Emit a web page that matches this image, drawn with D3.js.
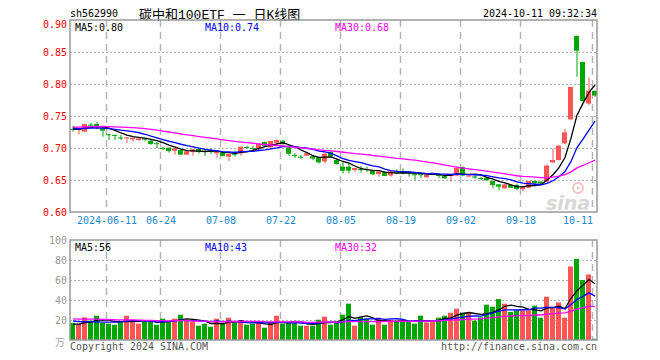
<!DOCTYPE html>
<html><head><meta charset="utf-8">
<script src="https://cdn.jsdelivr.net/npm/d3@7/dist/d3.min.js"></script>
<style>body{margin:0;background:#fff}svg{display:block}</style>
</head><body><svg id="c" width="660" height="360"></svg>
<script>
// ---------- data ----------
const dates = ["2024-05-31","2024-06-03","2024-06-04","2024-06-05","2024-06-06","2024-06-07","2024-06-11","2024-06-12","2024-06-13","2024-06-14",
"2024-06-17","2024-06-18","2024-06-19","2024-06-20","2024-06-21","2024-06-24","2024-06-25","2024-06-26","2024-06-27","2024-06-28",
"2024-07-01","2024-07-02","2024-07-03","2024-07-04","2024-07-05","2024-07-08","2024-07-09","2024-07-10","2024-07-11","2024-07-12",
"2024-07-15","2024-07-16","2024-07-17","2024-07-18","2024-07-19","2024-07-22","2024-07-23","2024-07-24","2024-07-25","2024-07-26",
"2024-07-29","2024-07-30","2024-07-31","2024-08-01","2024-08-02","2024-08-05","2024-08-06","2024-08-07","2024-08-08","2024-08-09",
"2024-08-12","2024-08-13","2024-08-14","2024-08-15","2024-08-16","2024-08-19","2024-08-20","2024-08-21","2024-08-22","2024-08-23",
"2024-08-26","2024-08-27","2024-08-28","2024-08-29","2024-08-30","2024-09-02","2024-09-03","2024-09-04","2024-09-05","2024-09-06",
"2024-09-09","2024-09-10","2024-09-11","2024-09-12","2024-09-13","2024-09-18","2024-09-19","2024-09-20","2024-09-23","2024-09-24",
"2024-09-25","2024-09-26","2024-09-27","2024-09-30","2024-10-08","2024-10-09","2024-10-10","2024-10-11"];

const opens = [0.7300,0.7280,0.7255,0.7365,0.7375,0.7317,0.7215,0.7205,0.7165,0.7150,
0.7135,0.7125,0.7145,0.7114,0.7075,0.7000,0.7005,0.6958,0.6969,0.6896,
0.6943,0.6984,0.6960,0.6960,0.6917,0.6927,0.6865,0.6910,0.6917,0.7015,
0.7000,0.6995,0.7094,0.7010,0.7083,0.7110,0.7005,0.6890,0.6865,0.6880,
0.6870,0.6854,0.6790,0.6940,0.6812,0.6708,0.6708,0.6656,0.6670,0.6670,
0.6646,0.6594,0.6620,0.6570,0.6630,0.6625,0.6635,0.6590,0.6590,0.6542,
0.6583,0.6580,0.6563,0.6570,0.6570,0.6700,0.6560,0.6555,0.6530,0.6536,
0.6484,0.6432,0.6370,0.6422,0.6422,0.6360,0.6380,0.6484,0.6474,0.6474,
0.6776,0.6812,0.7073,0.7448,0.8750,0.8344,0.7695,0.7893];
const highs = [0.7344,0.7315,0.7380,0.7395,0.7406,0.7330,0.7218,0.7208,0.7203,0.7170,
0.7165,0.7155,0.7155,0.7125,0.7090,0.7015,0.7010,0.7000,0.6972,0.6950,
0.6985,0.6990,0.6995,0.6995,0.6960,0.6940,0.6910,0.6958,0.7025,0.7036,
0.7036,0.7070,0.7100,0.7110,0.7135,0.7125,0.7047,0.6920,0.6890,0.6920,
0.6875,0.6860,0.6920,0.6950,0.6830,0.6786,0.6760,0.6690,0.6719,0.6708,
0.6650,0.6635,0.6630,0.6650,0.6667,0.6682,0.6640,0.6615,0.6604,0.6580,
0.6610,0.6604,0.6570,0.6590,0.6700,0.6710,0.6580,0.6578,0.6552,0.6540,
0.6490,0.6435,0.6435,0.6425,0.6443,0.6400,0.6490,0.6490,0.6480,0.6745,
0.6990,0.7045,0.7297,0.7958,0.8760,0.8350,0.8100,0.7900];
const lows = [0.7255,0.7214,0.7250,0.7323,0.7290,0.7177,0.7125,0.7125,0.7125,0.7080,
0.7098,0.7110,0.7105,0.7050,0.6995,0.6970,0.6927,0.6896,0.6890,0.6890,
0.6880,0.6915,0.6875,0.6906,0.6840,0.6870,0.6797,0.6865,0.6880,0.6990,
0.6958,0.6969,0.7030,0.7010,0.7047,0.7047,0.6875,0.6845,0.6823,0.6875,
0.6810,0.6755,0.6760,0.6860,0.6740,0.6604,0.6604,0.6630,0.6615,0.6630,
0.6580,0.6552,0.6560,0.6552,0.6594,0.6589,0.6552,0.6500,0.6526,0.6535,
0.6580,0.6526,0.6520,0.6474,0.6560,0.6560,0.6545,0.6516,0.6500,0.6490,
0.6370,0.6344,0.6365,0.6375,0.6344,0.6328,0.6370,0.6422,0.6422,0.6470,
0.6760,0.6805,0.7060,0.7442,0.8114,0.7730,0.7670,0.7800];
const closes = [0.7295,0.7310,0.7375,0.7360,0.7333,0.7270,0.7210,0.7200,0.7160,0.7165,
0.7160,0.7150,0.7140,0.7062,0.7070,0.6995,0.6953,0.6995,0.6896,0.6948,
0.6980,0.6937,0.6950,0.6950,0.6953,0.6875,0.6906,0.6900,0.7020,0.7005,
0.6990,0.7063,0.7036,0.7110,0.7125,0.7073,0.6910,0.6880,0.6855,0.6917,
0.6835,0.6776,0.6910,0.6865,0.6750,0.6646,0.6646,0.6688,0.6665,0.6665,
0.6589,0.6630,0.6563,0.6635,0.6620,0.6620,0.6609,0.6580,0.6580,0.6578,
0.6604,0.6570,0.6526,0.6580,0.6690,0.6570,0.6570,0.6550,0.6525,0.6495,
0.6422,0.6396,0.6432,0.6380,0.6360,0.6396,0.6484,0.6448,0.6443,0.6724,
0.6812,0.7036,0.7245,0.7953,0.8520,0.7734,0.7895,0.7820];
// volume, unit 万
const volumes = [17.0,16.0,22.6,19.3,24.3,17.0,16.3,15.3,18.6,24.3,
19.3,16.3,18.6,18.6,15.3,21.3,18.6,21.3,25.3,19.6,
18.6,14.3,16.3,13.3,21.3,16.0,22.3,17.0,19.6,15.3,
16.3,17.0,12.3,17.0,24.3,16.3,17.0,18.6,14.3,14.3,
14.3,20.3,23.3,15.3,17.0,25.3,36.3,14.3,23.0,21.3,
15.3,22.3,15.3,20.3,19.3,19.3,18.6,16.3,24.3,17.6,
19.3,22.3,24.3,27.3,31.3,27.3,27.3,19.3,22.6,35.3,
33.3,41.0,36.3,28.0,29.6,29.6,29.6,34.3,22.3,43.3,
32.0,37.6,22.3,73.5,81.0,60.0,65.5,1.2];
// estimated sessions before the visible window (needed for moving averages)
const priorCloses = [0.722,0.725,0.727,0.726,0.729,0.728,0.730,0.727,0.729,0.731,
0.735,0.738,0.741,0.744,0.742,0.740,0.743,0.739,0.737,0.736,0.734,
0.732,0.730,0.733,0.729,0.728,0.731,0.730,0.727];
const priorVolumes = [21,24,20,22,26,23,20,19,25,22,23,27,21,19,24,22,20,18,24,22,22,24,21,23,21,16,15,17,14];

const priceTicks = [0.60,0.65,0.70,0.75,0.80,0.85,0.90];
const volumeTicks = [0,20,40,60,80,100];
const dateTicks = ["2024-06-11","2024-06-24","2024-07-08","2024-07-22","2024-08-05","2024-08-19","2024-09-02","2024-09-18","2024-10-11"];
const dateTickLabels = ["2024-06-11","06-24","07-08","07-22","08-05","08-19","09-02","09-18","10-11"];
const maPeriods = [5,10,30];
const priceLegend = ["MA5:0.80","MA10:0.74","MA30:0.68"];
const volumeLegend = ["MA5:56","MA10:43","MA30:32"];
const symbol = "sh562990";
const title = "碳中和100ETF 一 日K线图";
const stamp = "2024-10-11 09:32:34";

// ---------- chart ----------
const svg = d3.select("#c");
const L = 70, R = 597, PT = 20, PB = 212, VT = 240, VB = 340;
const RED = "#ff5555", GREEN = "#00a600", GRID = "#b4b4b4", FRAME = "#999";
const maColors = ["#000000", "#0000ff", "#ff00ff"];

const x = d3.scaleBand().domain(dates).range([L, 598]).paddingInner(0).paddingOuter(0);
const bw = x.bandwidth();
const cx = d => x(d) + bw / 2 - 0.5;
const yP = d3.scaleLinear().domain([0.60, 0.90]).range([PB, PT]);
const yV = d3.scaleLinear().domain([0, 100]).range([VB, VT]);

function mono(sel, size) {
  sel.style("font-family", "'DejaVu Sans Mono', monospace").style("font-size", size + "px")
     .attr("textLength", function () { return this.textContent.length * 6; })
     .attr("lengthAdjust", "spacingAndGlyphs");
  return sel;
}
function movingAvg(prior, vals, n) {
  const all = prior.concat(vals), off = prior.length;
  return vals.map((v, i) => d3.mean(all.slice(off + i - n + 1, off + i + 1)));
}

const rows = dates.map((d, i) => ({ d, o: opens[i], h: highs[i], l: lows[i], c: closes[i], v: volumes[i] }));
const up = r => r.c >= r.o;

// header
mono(svg.append("text").attr("x", L).attr("y", 17).attr("fill", "#000").text(symbol), 11);
svg.append("text").attr("x", 139).attr("y", 18.5).attr("fill", "#000").style("white-space", "pre")
  .style("font-family", "'Liberation Mono', 'Noto Sans CJK SC', monospace").style("font-size", "13px").text(title);
mono(svg.append("text").attr("x", R).attr("y", 17).attr("text-anchor", "end").attr("fill", "#000").text(stamp), 11);

// grids
function hgrid(scale, ticks, skip) {
  svg.append("g").selectAll("line").data(ticks.filter(t => !skip.includes(t))).join("line")
    .attr("x1", L).attr("x2", R).attr("y1", d => Math.round(scale(d)) + 0.5).attr("y2", d => Math.round(scale(d)) + 0.5)
    .attr("stroke", GRID).attr("stroke-width", 1).attr("stroke-dasharray", "2,2");
}
hgrid(yP, priceTicks, [0.60, 0.90]);
hgrid(yV, volumeTicks, [0, 100]);
[[PT, PB], [VT, VB]].forEach(([t, b]) => {
  svg.append("g").selectAll("line").data(dateTicks).join("line")
    .attr("x1", d => x(d) + 0.5).attr("x2", d => x(d) + 0.5).attr("y1", t).attr("y2", b)
    .attr("stroke", GRID).attr("stroke-width", 1.5).attr("stroke-dasharray", "7,5");
});

// watermark
const wm = svg.append("g").attr("opacity", 0.55);
wm.append("circle").attr("cx", 578).attr("cy", 188).attr("r", 5).attr("fill", "none").attr("stroke", "#e89090").attr("stroke-width", 2);
wm.append("circle").attr("cx", 578).attr("cy", 188).attr("r", 1.6).attr("fill", "#e89090");
wm.append("text").attr("x", 546).attr("y", 210).attr("fill", "#b8b8b8")
  .style("font-family", "'DejaVu Sans', sans-serif").style("font-size", "19px").style("font-style", "italic").style("font-weight", "bold").text("sina");

// candles
const cg = svg.append("g");
cg.selectAll("line").data(rows).join("line")
  .attr("x1", d => cx(d.d) + 0.5).attr("x2", d => cx(d.d) + 0.5)
  .attr("y1", d => yP(d.h)).attr("y2", d => yP(d.l))
  .attr("stroke", d => up(d) ? RED : GREEN).attr("stroke-width", 1);
cg.selectAll("rect").data(rows).join("rect")
  .attr("x", d => x(d.d)).attr("width", bw - 1)
  .attr("y", d => yP(Math.max(d.o, d.c)))
  .attr("height", d => Math.max(1, Math.abs(yP(d.o) - yP(d.c))))
  .attr("fill", d => up(d) ? RED : GREEN);

// volume bars
svg.append("g").selectAll("rect").data(rows).join("rect")
  .attr("x", d => x(d.d)).attr("width", bw - 1)
  .attr("y", d => yV(d.v)).attr("height", d => yV(0) - yV(d.v))
  .attr("fill", d => up(d) ? RED : GREEN);

// moving averages
maPeriods.forEach((n, k) => {
  const pm = movingAvg(priorCloses, closes, n);
  const vm = movingAvg(priorVolumes, volumes, n);
  svg.append("path").datum(pm).attr("fill", "none").attr("stroke", maColors[k]).attr("stroke-width", 1.3)
    .attr("d", d3.line().x((v, i) => cx(dates[i]) + 0.5).y(v => yP(v)));
  svg.append("path").datum(vm).attr("fill", "none").attr("stroke", maColors[k]).attr("stroke-width", 1.3)
    .attr("d", d3.line().x((v, i) => cx(dates[i]) + 0.5).y(v => yV(v)));
});

// frames
[[PT, PB], [VT, VB]].forEach(([t, b]) => {
  svg.append("rect").attr("x", L).attr("y", t).attr("width", R - L).attr("height", b - t)
    .attr("fill", "none").attr("stroke", FRAME).attr("stroke-width", 1.5);
});

// legends
const legX = [75, 205, 335];
priceLegend.forEach((s, k) => mono(svg.append("text").attr("x", legX[k]).attr("y", 31).attr("fill", maColors[k]).text(s), 11));
volumeLegend.forEach((s, k) => mono(svg.append("text").attr("x", legX[k]).attr("y", 251).attr("fill", maColors[k]).text(s), 11));

// y axes
const ay = svg.append("g").attr("transform", `translate(${L - 3},0)`)
  .call(d3.axisLeft(yP).tickValues(priceTicks).tickFormat(d3.format(".2f")).tickSize(0));
ay.select(".domain").remove();
ay.selectAll("text").attr("fill", "#ff0000").attr("dy", "0.35em").attr("x", 0)
  .each(function () { mono(d3.select(this), 11); });
ay.selectAll(".tick").filter(d => d === 0.90).attr("transform", `translate(0,${yP(0.90) + 4})`);

const av = svg.append("g").attr("transform", `translate(${L - 3},0)`)
  .call(d3.axisLeft(yV).tickValues(volumeTicks.filter(t => t > 0)).tickSize(0));
av.select(".domain").remove();
av.selectAll("text").attr("fill", "#999").attr("dy", "0.35em").attr("x", 0)
  .each(function () { mono(d3.select(this), 11); });
svg.append("text").attr("x", 65).attr("y", 346).attr("text-anchor", "end").attr("fill", "#aaa")
  .style("font-family", "'Noto Sans CJK SC', sans-serif").style("font-size", "10px").text("万");

// x labels (kept inside the frame)
svg.append("g").selectAll("text").data(dateTicks).join("text")
  .attr("x", (d, i) => Math.min(x(d) + 1, R - 4 - dateTickLabels[i].length * 3))
  .attr("y", 224).attr("text-anchor", "middle").attr("fill", "#1a8ad4")
  .text((d, i) => dateTickLabels[i]).each(function () { mono(d3.select(this), 11); });

// footer
mono(svg.append("text").attr("x", L).attr("y", 350).attr("fill", "#555").text("Copyright 2024 SINA.COM"), 11);
mono(svg.append("text").attr("x", R).attr("y", 350).attr("text-anchor", "end").attr("fill", "#555").text("http://finance.sina.com.cn"), 11);
</script></body></html>
